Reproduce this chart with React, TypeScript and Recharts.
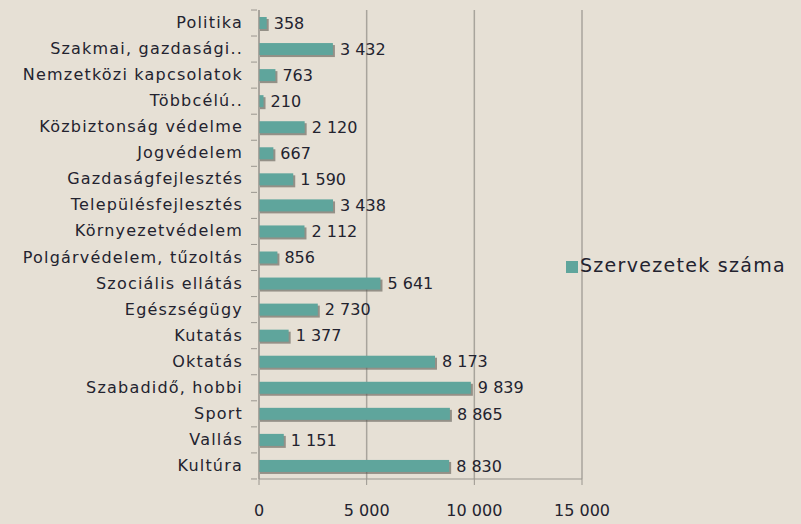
import { BarChart, Bar, XAxis, YAxis, CartesianGrid, Legend, LabelList } from 'recharts';

const categories = [
  'Politika',
  'Szakmai, gazdasági..',
  'Nemzetközi kapcsolatok',
  'Többcélú..',
  'Közbiztonság védelme',
  'Jogvédelem',
  'Gazdaságfejlesztés',
  'Településfejlesztés',
  'Környezetvédelem',
  'Polgárvédelem, tűzoltás',
  'Szociális ellátás',
  'Egészségügy',
  'Kutatás',
  'Oktatás',
  'Szabadidő, hobbi',
  'Sport',
  'Vallás',
  'Kultúra',
];
const counts = [358, 3432, 763, 210, 2120, 667, 1590, 3438, 2112, 856, 5641, 2730, 1377, 8173, 9839, 8865, 1151, 8830];
const xTicks = [0, 5000, 10000, 15000];

const data = categories.map((name, i) => ({ name, value: counts[i] }));

const fmt = (v: number) => String(v).replace(/\B(?=(\d{3})+(?!\d))/g, ' ');

const FONT = '"DejaVu Sans", sans-serif';
const TXT = '#23232f';

const ShadowBar = (props: any) => {
  const { x, y, width, height } = props;
  if (!width) return null;
  return (
    <g>
      <rect x={x + 1} y={y + 2} width={width + 1} height={height} fill="#5e5a54" opacity={0.6} />
      <rect x={x} y={y} width={width} height={height} fill="#5fa59c" />
    </g>
  );
};

const CatTick = (props: any) => {
  const { x, y, payload, index } = props;
  const half = 13;
  return (
    <g>
      {index === 0 && <line x1={x} x2={x + 6} y1={y - half} y2={y - half} stroke="#9a968f" />}
      <line x1={x} x2={x + 6} y1={y + half} y2={y + half} stroke="#9a968f" />
      <text
        x={x - 8}
        y={y}
        dy={5}
        textAnchor="end"
        fill={TXT}
        fontSize={16}
        letterSpacing={1.2}
        fontFamily={FONT}
      >
        {payload.value}
      </text>
    </g>
  );
};

export default function App() {
  return (
    <div style={{ position: 'absolute', left: 0, top: 0, width: 801, height: 524, background: '#e6e0d5' }}>
      <BarChart
        width={801}
        height={524}
        data={data}
        layout="vertical"
        margin={{ top: 10, right: 219, left: 0, bottom: 0 }}
        barCategoryGap={0}
      >
        <CartesianGrid horizontal={false} stroke="#a8a49c" strokeWidth={1.5} />
        <XAxis
          type="number"
          domain={[0, 15000]}
          ticks={xTicks}
          tickFormatter={fmt}
          height={45}
          stroke="#9a968f"
          tickSize={6}
          tickMargin={20}
          tick={{ fill: TXT, fontSize: 16, fontFamily: FONT }}
          interval={0}
        />
        <YAxis
          type="category"
          dataKey="name"
          width={259}
          stroke="#9a968f"
          tickLine={false}
          tick={<CatTick />}
          interval={0}
        />
        <Legend
          layout="horizontal"
          align="center"
          verticalAlign="middle"
          iconType="square"
          iconSize={12}
          wrapperStyle={{ left: 561, top: 254, width: 240, textAlign: 'left', fontFamily: FONT, fontSize: 19 }}
          formatter={(v) => <span style={{ color: TXT, letterSpacing: 1.3, marginLeft: -2 }}>{v}</span>}
        />
        <Bar
          dataKey="value"
          name="Szervezetek száma"
          fill="#5fa59c"
          barSize={12}
          shape={<ShadowBar />}
          isAnimationActive={false}
        >
          <LabelList
            dataKey="value"
            position="right"
            offset={7}
            formatter={(v: any) => fmt(Number(v))}
            style={{ fill: TXT, fontSize: 16, fontFamily: FONT }}
          />
        </Bar>
      </BarChart>
    </div>
  );
}
